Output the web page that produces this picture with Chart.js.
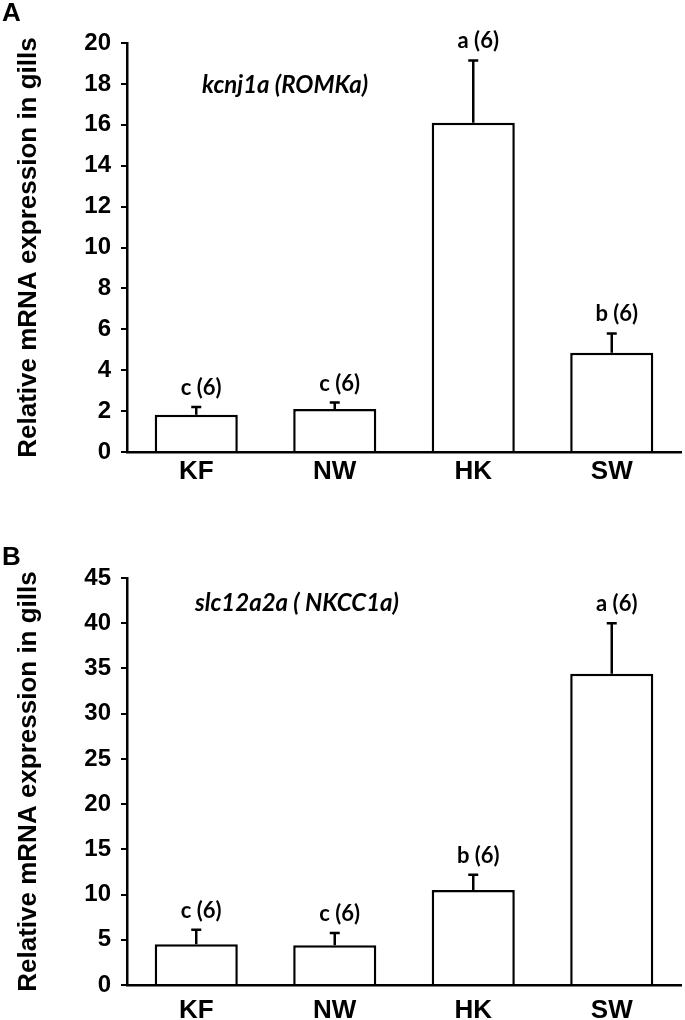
<!DOCTYPE html>
<html>
<head>
<meta charset="utf-8">
<script src="https://cdn.jsdelivr.net/npm/chart.js@4.4.1/dist/chart.umd.min.js"></script>
<style>
  body { margin: 0; background: #fff; }
  .panel { position: relative; width: 685px; height: 510px; }
  .panel canvas { display: block; }
  .letter { position: absolute; left: 2px; font: bold 26px "Liberation Sans", Arial, sans-serif; color: #000; }
</style>
</head>
<body>
<div class="panel">
  <div class="letter" style="top:-3px">A</div>
  <canvas id="grafico1" width="685" height="510"></canvas>
</div>
<div class="panel">
  <div class="letter" style="top:31px">B</div>
  <canvas id="grafico2" width="685" height="510"></canvas>
</div>
<script>
// grupos (eixo x)
const grupos = ['KF', 'NW', 'HK', 'SW'];

// A - kcnj1a (ROMKa)
const romkMedia = [1.82, 2.1, 16.1, 4.85];
const romkErro = [0.38, 0.32, 3.05, 0.95];
const romkLetras = ['c (6)', 'c (6)', 'a (6)', 'b (6)'];

// B - slc12a2a (NKCC1a)
const nkccMedia = [4.5, 4.4, 10.5, 34.4];
const nkccErro = [1.6, 1.35, 1.7, 5.6];
const nkccLetras = ['c (6)', 'c (6)', 'b (6)', 'a (6)'];

const TITULO_Y = 'Relative mRNA expression in gills';
const FONTE = '"Liberation Sans", Arial, sans-serif';

Chart.defaults.color = '#000';
Chart.defaults.font.family = FONTE;

// desenha barras de erro, letras e o nome do gene
const errosPlugin = {
  id: 'erros',
  afterDatasetsDraw(chart, args, opts) {
    const ctx = chart.ctx;
    const y = chart.scales.y;
    const bars = chart.getDatasetMeta(0).data;
    ctx.save();
    ctx.strokeStyle = '#000';
    ctx.lineWidth = 2.5;
    ctx.fillStyle = '#000';
    ctx.font = 'bold 22px Lato, "Open Sans", sans-serif';
    ctx.textAlign = 'center';
    ctx.textBaseline = 'bottom';
    bars.forEach((bar, i) => {
      const top = y.getPixelForValue(opts.media[i]);
      const cap = y.getPixelForValue(opts.media[i] + opts.erro[i]);
      ctx.beginPath();
      ctx.moveTo(bar.x, top);
      ctx.lineTo(bar.x, cap);
      ctx.moveTo(bar.x - 5, cap);
      ctx.lineTo(bar.x + 5, cap);
      ctx.stroke();
      ctx.fillText(opts.letras[i], bar.x + 5, cap - 8);
    });
    ctx.font = 'italic bold 24px Lato, "Open Sans", sans-serif';
    ctx.textAlign = 'left';
    ctx.textBaseline = 'alphabetic';
    ctx.fillText(opts.gene, chart.chartArea.left + opts.geneX, chart.chartArea.top + opts.geneY);
    ctx.restore();
  }
};

function grafico(el, media, erro, letras, gene, maxY, passo, topo, alturaX, padX, geneX, geneY) {
  return new Chart(el, {
    type: 'bar',
    data: {
      labels: grupos,
      datasets: [{
        data: media,
        backgroundColor: '#fff',
        borderColor: '#000',
        borderWidth: 2.5,
        borderSkipped: 'bottom',
        barPercentage: 0.6,
        categoryPercentage: 1
      }]
    },
    options: {
      responsive: false,
      animation: false,
      layout: { padding: { top: topo, right: 4, left: 0, bottom: 0 } },
      plugins: {
        legend: { display: false },
        tooltip: { enabled: false },
        erros: { media: media, erro: erro, letras: letras, gene: gene, geneX: geneX, geneY: geneY }
      },
      scales: {
        x: {
          grid: { display: false, drawTicks: false },
          border: { color: '#000', width: 2.5 },
          ticks: { font: { size: 26, weight: 'bold' }, padding: padX },
          afterFit(s) { s.height = alturaX; }
        },
        y: {
          min: 0,
          max: maxY,
          grid: { drawOnChartArea: false, color: '#000', lineWidth: 2, tickLength: 6 },
          border: { color: '#000', width: 2.5 },
          ticks: { stepSize: passo, font: { size: 24, weight: 'bold' }, padding: 10 },
          title: {
            display: true,
            text: TITULO_Y,
            font: { size: 26, weight: 'bold' },
            padding: { top: 13, bottom: 0 }
          },
          afterFit(s) { s.width = 127; }
        }
      }
    },
    plugins: [errosPlugin]
  });
}

grafico(document.getElementById('grafico1'), romkMedia, romkErro, romkLetras,
  'kcnj1a (ROMKa)', 20, 2, 43, 58, 4, 75, 50);
grafico(document.getElementById('grafico2'), nkccMedia, nkccErro, nkccLetras,
  'slc12a2a ( NKCC1a)', 45, 5, 68, 35, 10, 68, 33);
</script>
</body>
</html>
